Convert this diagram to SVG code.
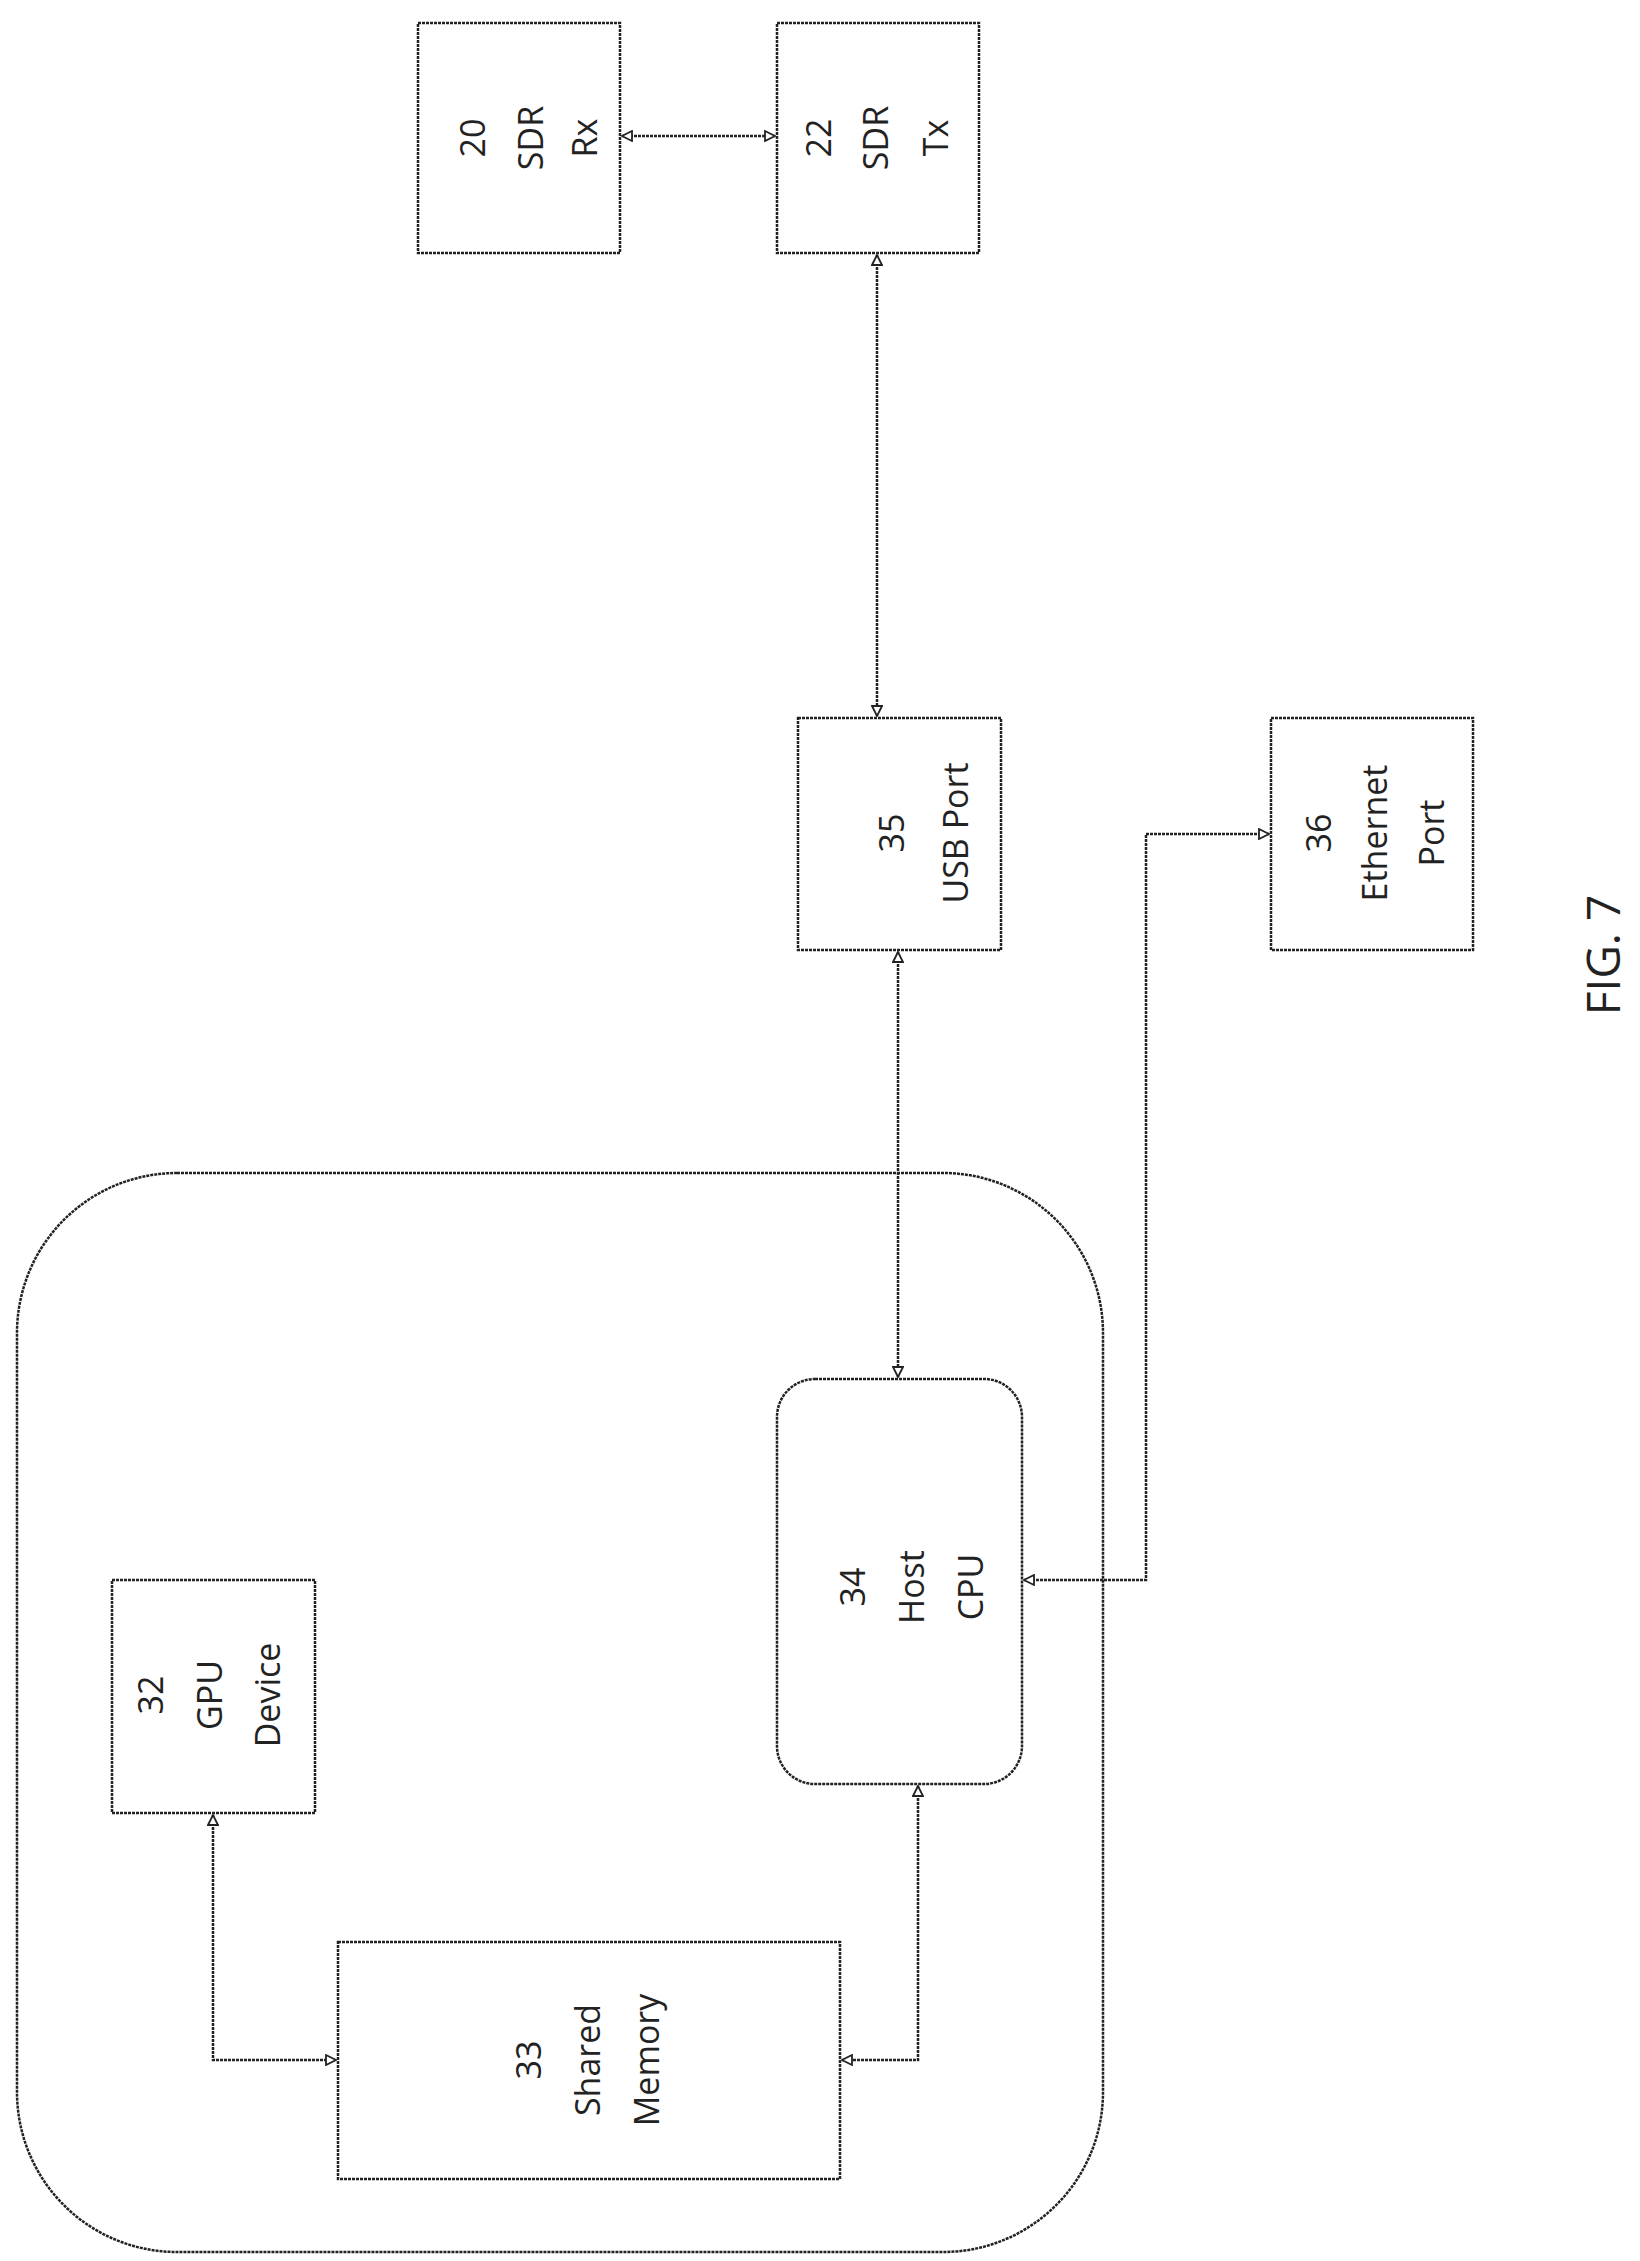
<svg xmlns="http://www.w3.org/2000/svg" width="1640" height="2261" viewBox="0 0 1640 2261">
<style>
.b{fill:#fff;stroke:#222;stroke-width:2.5;stroke-dasharray:3 1}
.c{fill:none;stroke:#222;stroke-width:2.5;stroke-dasharray:3 1}
text{font-family:"Open Sans","Liberation Sans",sans-serif;font-size:34px;fill:#222;text-anchor:middle}
</style>
<defs>
<marker id="a" viewBox="0 0 12 12" refX="11" refY="6" markerWidth="12" markerHeight="12" markerUnits="userSpaceOnUse" orient="auto-start-reverse">
<path d="M1,1 L11,6 L1,11 Z" fill="#fff" stroke="#222" stroke-width="1.8"/>
</marker>
</defs>
<rect width="1640" height="2261" fill="#fff"/>
<g id="outer"><rect class="b" x="17" y="1173" width="1086" height="1079" rx="160"/></g>
<g id="n20"><rect class="b" x="418" y="23" width="202" height="230"/>
<text transform="translate(485,138) rotate(-90)">20</text>
<text transform="translate(543,138) rotate(-90)">SDR</text>
<text transform="translate(597,138) rotate(-90)">Rx</text></g>
<g id="n22"><rect class="b" x="777" y="23" width="202" height="230"/>
<text transform="translate(831,138) rotate(-90)">22</text>
<text transform="translate(888,138) rotate(-90)">SDR</text>
<text transform="translate(948,138) rotate(-90)">Tx</text></g>
<g id="n35"><rect class="b" x="798" y="718" width="203" height="232"/>
<text transform="translate(904,833) rotate(-90)">35</text>
<text transform="translate(968,833) rotate(-90)">USB Port</text></g>
<g id="n36"><rect class="b" x="1271" y="718" width="202" height="232"/>
<text transform="translate(1331,833) rotate(-90)">36</text>
<text transform="translate(1387,833) rotate(-90)">Ethernet</text>
<text transform="translate(1444,833) rotate(-90)">Port</text></g>
<g id="n34"><rect class="b" x="777" y="1379" width="245" height="405" rx="38"/>
<text transform="translate(865,1587) rotate(-90)">34</text>
<text transform="translate(924,1587) rotate(-90)">Host</text>
<text transform="translate(983,1587) rotate(-90)">CPU</text></g>
<g id="n32"><rect class="b" x="112" y="1580" width="203" height="233"/>
<text transform="translate(163,1695) rotate(-90)">32</text>
<text transform="translate(222,1695) rotate(-90)">GPU</text>
<text transform="translate(280,1695) rotate(-90)">Device</text></g>
<g id="n33"><rect class="b" x="338" y="1942" width="502" height="237"/>
<text transform="translate(541,2060) rotate(-90)">33</text>
<text transform="translate(600,2060) rotate(-90)">Shared</text>
<text transform="translate(659,2060) rotate(-90)">Memory</text></g>
<g id="connectors">
<path class="c" d="M622,136 H775" marker-start="url(#a)" marker-end="url(#a)"/>
<path class="c" d="M877,255 V716" marker-start="url(#a)" marker-end="url(#a)"/>
<path class="c" d="M898,952 V1377" marker-start="url(#a)" marker-end="url(#a)"/>
<path class="c" d="M1024,1580 H1146 V834 H1269" marker-start="url(#a)" marker-end="url(#a)"/>
<path class="c" d="M213,1815 V2060 H336" marker-start="url(#a)" marker-end="url(#a)"/>
<path class="c" d="M918,1786 V2060 H842" marker-start="url(#a)" marker-end="url(#a)"/>
</g>
<text transform="translate(1620,955) rotate(-90)" style="font-size:46px">FIG. 7</text>
</svg>
